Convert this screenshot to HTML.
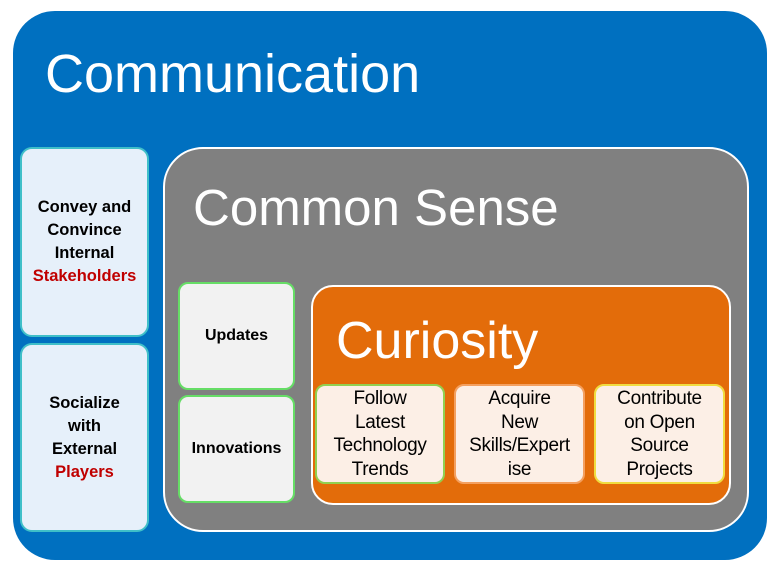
<!DOCTYPE html>
<html><head><meta charset="utf-8"><style>
body{margin:0;width:775px;height:571px;background:#fff;position:relative;overflow:hidden;font-family:"Liberation Sans",sans-serif}
div{position:absolute;box-sizing:border-box}
.t{white-space:nowrap;color:#fff;line-height:1}
.lb{background:#e6f0fa;border:2px solid #3fbfc8;border-radius:12px;display:flex;align-items:center;justify-content:center;text-align:center;font-weight:bold;font-size:16.5px;line-height:23px;color:#000}
.lb>p{margin:0;white-space:nowrap}
.gb{background:#f2f2f2;border:2px solid #66dd66;border-radius:10px;display:flex;align-items:center;justify-content:center;font-weight:bold;font-size:16px;color:#000}
.sb{background:#fcefe6;border:2px solid;border-radius:10px;text-align:center;font-size:19px;line-height:23.5px;color:#000;padding-top:1px;white-space:nowrap;letter-spacing:-0.3px}
.r{color:#c00000}
</style></head><body>
<div style="left:13px;top:11px;width:754px;height:549px;background:#0070c0;border-radius:42px"></div>
<div class="t" style="left:45px;top:47px;font-size:54px">Communication</div>
<div class="lb" style="left:20px;top:147px;width:129px;height:190px"><p>Convey and<br>Convince<br>Internal<br><span class="r">Stakeholders</span></p></div>
<div class="lb" style="left:20px;top:343px;width:129px;height:189px"><p>Socialize<br>with<br>External<br><span class="r">Players</span></p></div>
<div style="left:163px;top:147px;width:586px;height:385px;background:#808080;border:2px solid #fff;border-radius:40px"></div>
<div class="t" style="left:193px;top:182px;font-size:51px">Common Sense</div>
<div class="gb" style="left:178px;top:282px;width:117px;height:108px">Updates</div>
<div class="gb" style="left:178px;top:395px;width:117px;height:108px">Innovations</div>
<div style="left:311px;top:285px;width:420px;height:220px;background:#e36c0a;border:2px solid #fff;border-radius:22px"></div>
<div class="t" style="left:336px;top:315px;font-size:52px">Curiosity</div>
<div class="sb" style="left:315px;top:384px;width:130px;height:100px;border-color:#92d050">Follow<br>Latest<br>Technology<br>Trends</div>
<div class="sb" style="left:454px;top:384px;width:131px;height:100px;border-color:#f4a060">Acquire<br>New<br>Skills/Expert<br>ise</div>
<div class="sb" style="left:594px;top:384px;width:131px;height:100px;border-color:#f0dc40">Contribute<br>on Open<br>Source<br>Projects</div>
</body></html>
